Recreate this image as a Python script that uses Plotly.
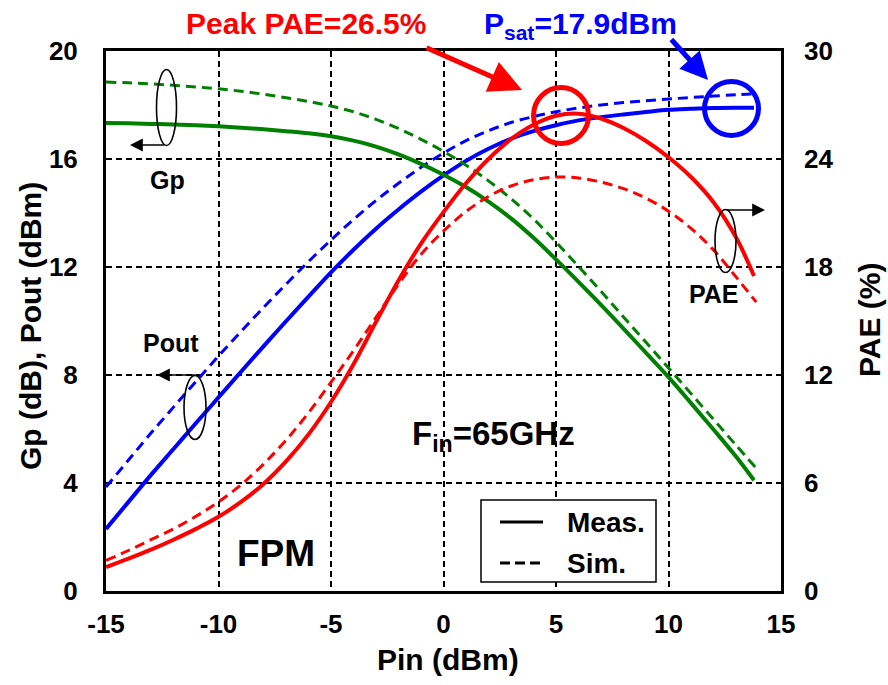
import plotly.graph_objects as go

# ---- data: input power sweep (dBm) ----
pin_meas = [-15, -14, -13, -12, -11, -10, -9, -8, -7, -6, -5, -4, -3, -2, -1,
            0, 1, 2, 3, 4, 5, 6, 7, 8, 9, 10, 11, 12, 13, 13.8]
pin_sim = [-15, -14, -13, -12, -11, -10, -9, -8, -7, -6, -5, -4, -3, -2, -1,
           0, 1, 2, 3, 4, 5, 6, 7, 8, 9, 10, 11, 12, 13, 13.9]

# power gain (dB)
gp_meas = [17.33, 17.32, 17.30, 17.28, 17.25, 17.21, 17.16, 17.10, 17.03, 16.95,
           16.84, 16.68, 16.46, 16.17, 15.82, 15.42, 14.96, 14.42, 13.80, 13.08,
           12.28, 11.45, 10.60, 9.72, 8.82, 7.92, 6.96, 5.98, 4.98, 4.10]
gp_sim = [18.85, 18.82, 18.78, 18.73, 18.67, 18.60, 18.51, 18.40, 18.27, 18.13,
          17.96, 17.75, 17.47, 17.13, 16.73, 16.28, 15.77, 15.19, 14.53, 13.78,
          12.92, 12.02, 11.10, 10.15, 9.21, 8.26, 7.31, 6.36, 5.40, 4.55]

# output power (dBm)
pout_meas = [2.30, 3.30, 4.30, 5.26, 6.22, 7.17, 8.12, 9.06, 9.99, 10.90,
             11.80, 12.64, 13.42, 14.13, 14.79, 15.39, 15.93, 16.38, 16.75, 17.03,
             17.25, 17.43, 17.55, 17.65, 17.74, 17.82, 17.86, 17.89, 17.90, 17.90]
pout_sim = [3.85, 4.85, 5.85, 6.81, 7.76, 8.70, 9.61, 10.50, 11.36, 12.20,
            13.00, 13.76, 14.46, 15.10, 15.69, 16.22, 16.68, 17.05, 17.35, 17.57,
            17.75, 17.89, 18.00, 18.09, 18.16, 18.22, 18.28, 18.33, 18.38, 18.42]

# power-added efficiency (%)
pae_meas = [1.33, 1.80, 2.30, 2.85, 3.45, 4.12, 4.95, 5.95, 7.20, 8.70,
            10.50, 12.60, 14.95, 17.25, 19.30, 21.05, 22.65, 24.00, 25.10, 25.90,
            26.40, 26.52, 26.25, 25.72, 25.00, 24.10, 23.00, 21.60, 19.65, 17.50]
pae_sim = [1.70, 2.25, 2.85, 3.45, 4.15, 4.95, 5.90, 7.05, 8.38, 9.90,
           11.60, 13.35, 15.20, 17.05, 18.70, 20.00, 21.08, 21.92, 22.50, 22.85,
           23.00, 22.95, 22.72, 22.35, 21.82, 21.10, 20.15, 18.95, 17.45, 16.05]

x_ticks = [-15, -10, -5, 0, 5, 10, 15]
x_tick_text = ["-15", "-10", "-5", "0", "5", "10", "15"]
y_left_ticks = [0, 4, 8, 12, 16, 20]
y_right_ticks = [0, 6, 12, 18, 24, 30]

RED, BLUE, GREEN = "#ff0000", "#0000ff", "#008000"
FONT = "Liberation Sans, Arial, sans-serif"
SIM_DASH = "10px,6px"

# plot-area geometry in pixels, used to place the decorations
W, H = 888, 685
L, R, T, B = 106, 107, 51, 94
PW, PH = W - L - R, H - T - B


def px(x):
    return (x - L) / PW


def py(y):
    return (H - B - y) / PH


fig = go.Figure()


def add_curve(x, y, color, dashed, axis="y"):
    fig.add_trace(go.Scatter(
        x=x, y=y, mode="lines", yaxis=axis, hoverinfo="skip",
        line=dict(color=color, width=3 if dashed else 4,
                  dash=SIM_DASH if dashed else "solid",
                  shape="spline", smoothing=1.0)))


add_curve(pin_sim, pout_sim, BLUE, True)
add_curve(pin_meas, pout_meas, BLUE, False)
add_curve(pin_sim, gp_sim, GREEN, True)
add_curve(pin_meas, gp_meas, GREEN, False)
add_curve(pin_sim, pae_sim, RED, True, "y2")
add_curve(pin_meas, pae_meas, RED, False, "y2")

tickfont = dict(family=FONT, size=26, color="black", weight="bold")
axis_common = dict(showline=True, linewidth=3, linecolor="black", mirror=True,
                   ticks="", zeroline=False, tickfont=tickfont)
grid = dict(showgrid=True, gridcolor="black", gridwidth=1.6, griddash="6px,4px")

fig.update_layout(
    width=W, height=H,
    margin=dict(l=L, r=R, t=T, b=B),
    plot_bgcolor="white", paper_bgcolor="white",
    showlegend=False,
    font=dict(family=FONT, color="black"),
    xaxis=dict(range=[-15, 15], tickvals=x_ticks, ticktext=x_tick_text,
               ticklabelstandoff=8, **axis_common, **grid),
    yaxis=dict(range=[0, 20], tickvals=y_left_ticks, ticklabelstandoff=20,
               **axis_common, **grid),
    yaxis2=dict(range=[0, 30], tickvals=y_right_ticks, overlaying="y",
                side="right", showgrid=False, zeroline=False, showline=False,
                ticks="", tickfont=tickfont, ticklabelstandoff=22),
)

ann = []


def text(x, y, s, size, color="black", angle=0, xanchor="center"):
    ann.append(dict(x=px(x), y=py(y), xref="paper", yref="paper", text=s,
                    showarrow=False, xanchor=xanchor, yanchor="middle",
                    textangle=angle,
                    font=dict(family=FONT, size=size, color=color, weight="bold")))


def arrow(tail, tip, color, width, size):
    ann.append(dict(x=px(tip[0]), y=py(tip[1]), xref="paper", yref="paper",
                    ax=tail[0] - tip[0], ay=tail[1] - tip[1], text="",
                    showarrow=True, arrowhead=2, arrowsize=size,
                    arrowwidth=width, arrowcolor=color, standoff=0))


# axis titles
text(30, 326, "Gp (dB), Pout (dBm)", 30, angle=-90)
text(869, 320, "PAE (%)", 30, angle=-90)
text(448, 659, "Pin (dBm)", 30)

# headline callouts
text(306, 23, "Peak PAE=26.5%", 30, RED)
text(580, 25, "P<sub>sat</sub>=17.9dBm", 30, BLUE)
arrow((425, 47), (522, 90), RED, 5, 1.3)
arrow((670, 38), (708, 80), BLUE, 5, 1.1)

# curve-group labels
text(167, 180, "Gp", 25)
text(171, 343, "Pout", 25)
text(714, 294, "PAE", 25)
arrow((166, 145), (130, 145), "black", 1.6, 1.6)
arrow((197, 375), (157, 375), "black", 1.6, 1.6)
arrow((725, 210), (765, 210), "black", 1.6, 1.6)

# condition / mode labels
text(493, 436, "F<sub>in</sub>=65GHz", 33)
text(276, 553, "FPM", 37)

# legend
text(565, 522, "Meas.", 28, xanchor="left")
text(565, 563, "Sim.", 28, xanchor="left")
fig.update_layout(annotations=ann)

shapes = []


def ellipse(cx, cy, rx, ry, color, width):
    shapes.append(dict(type="circle", xref="paper", yref="paper",
                       x0=px(cx - rx), x1=px(cx + rx), y0=py(cy + ry), y1=py(cy - ry),
                       line=dict(color=color, width=width), layer="above"))


ellipse(561, 115.5, 27.5, 28, RED, 5)
ellipse(731.5, 108.5, 27, 27, BLUE, 5)
ellipse(166.5, 107.5, 10, 38, "black", 1.6)
ellipse(195, 407.5, 11, 32, "black", 1.6)
ellipse(725.5, 241, 10.5, 31.5, "black", 1.6)

shapes.append(dict(type="rect", xref="paper", yref="paper",
                   x0=px(481), x1=px(656), y0=py(582), y1=py(500),
                   line=dict(color="black", width=1.5), fillcolor="white",
                   layer="above"))
shapes.append(dict(type="line", xref="paper", yref="paper",
                   x0=px(500), x1=px(543), y0=py(522), y1=py(522),
                   line=dict(color="black", width=3), layer="above"))
shapes.append(dict(type="line", xref="paper", yref="paper",
                   x0=px(500), x1=px(543), y0=py(563), y1=py(563),
                   line=dict(color="black", width=3, dash="10px,5px"),
                   layer="above"))
fig.update_layout(shapes=shapes)

fig.write_html("out.html")
